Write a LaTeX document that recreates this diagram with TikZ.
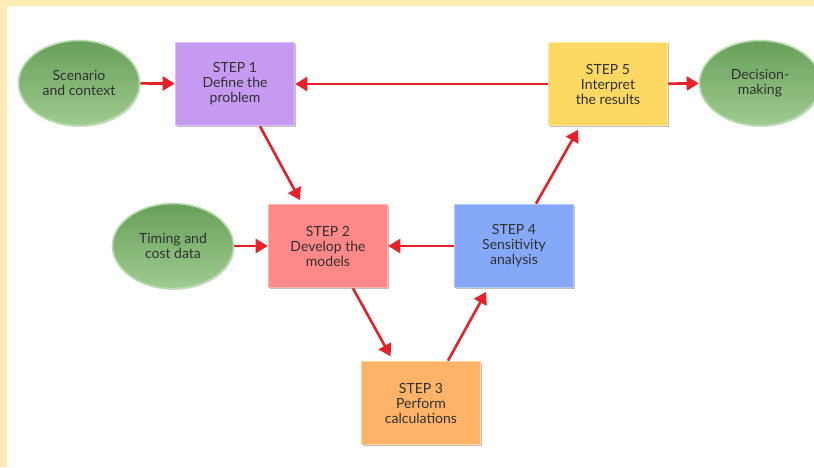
\documentclass[tikz,border=0pt]{standalone}
\usepackage{fontspec}
\setmainfont{Lato}
\usetikzlibrary{arrows.meta,shadows}
\definecolor{bgyellow}{HTML}{FFEBB5}
\definecolor{arrowred}{HTML}{E8202A}
\definecolor{txt}{HTML}{303030}
\definecolor{vio}{HTML}{C79AF2}\definecolor{viob}{HTML}{DDBFFA}
\definecolor{pink}{HTML}{FF8888}\definecolor{pinkb}{HTML}{FFB3B3}
\definecolor{blu}{HTML}{86A8F8}\definecolor{blub}{HTML}{B3CAFB}
\definecolor{ora}{HTML}{FDB469}\definecolor{orab}{HTML}{FFD29E}
\definecolor{yel}{HTML}{FDD963}\definecolor{yelb}{HTML}{FFEB9E}
\definecolor{grtop}{HTML}{67A05A}\definecolor{grbot}{HTML}{9FCB90}\definecolor{grb}{HTML}{B8DCAB}
\tikzset{
  stepbox/.style={draw=#1b, line width=1.6pt, fill=#1, minimum width=119pt, minimum height=83pt,
    align=center, font=\fontsize{14pt}{15pt}\selectfont, text=txt,
    drop shadow={shadow xshift=1.5pt, shadow yshift=-1.5pt, fill=black, opacity=0.25}},
  oval/.style={ellipse, draw=grb, line width=1.6pt, top color=grtop, bottom color=grbot,
    minimum width=121pt, minimum height=85pt, align=center, inner sep=0pt,
    font=\fontsize{14pt}{15pt}\selectfont, text=txt,
    drop shadow={shadow xshift=1pt, shadow yshift=-1.5pt, fill=black, opacity=0.15}},
  flow/.style={draw=arrowred, line width=2.6pt, -{Triangle[length=12pt,width=14pt]}},
}
\usetikzlibrary{shapes.geometric}
\begin{document}
\begin{tikzpicture}[x=1pt,y=-1pt]
\useasboundingbox (0,0) rectangle (814,467);
\clip (0,0) rectangle (814,467);
\fill[white] (0,0) rectangle (814,467);
\fill[bgyellow] (0,0) rectangle (814,6);
\fill[bgyellow] (0,0) rectangle (7,467);

\node[oval] (scen) at (79,83) {Scenario\\and context};
\node[oval] (dec) at (760,83) {Decision-\\making};
\node[oval] (tim) at (173,246) {Timing and\\cost data};

\node[stepbox=vio] (s1) at (235,84) {STEP 1\\Define the\\problem};
\node[stepbox=yel] (s5) at (608,84) {STEP 5\\Interpret\\the results};
\node[stepbox=pink] (s2) at (328,246) {STEP 2\\Develop the\\models};
\node[stepbox=blu] (s4) at (514,246) {STEP 4\\Sensitivity\\analysis};
\node[stepbox=ora] (s3) at (421,403) {STEP 3\\Perform\\calculations};

\draw[flow] (scen) -- (s1);
\draw[flow] (s5) -- (s1);
\draw[flow] (s5) -- (dec);
\draw[flow] (tim) -- (s2);
\draw[flow] (s4) -- (s2);
\draw[flow, shorten >=4pt] ([xshift=25pt]s1.south) -- ([xshift=-26pt]s2.north);
\draw[flow, shorten >=5pt] ([xshift=25pt]s2.south) -- ([xshift=-28pt]s3.north);
\draw[flow, shorten >=4pt] ([xshift=27pt]s3.north) -- ([xshift=-26pt]s4.south);
\draw[flow, shorten >=4pt] ([xshift=22pt]s4.north) -- ([xshift=-28pt]s5.south);
\end{tikzpicture}
\end{document}
